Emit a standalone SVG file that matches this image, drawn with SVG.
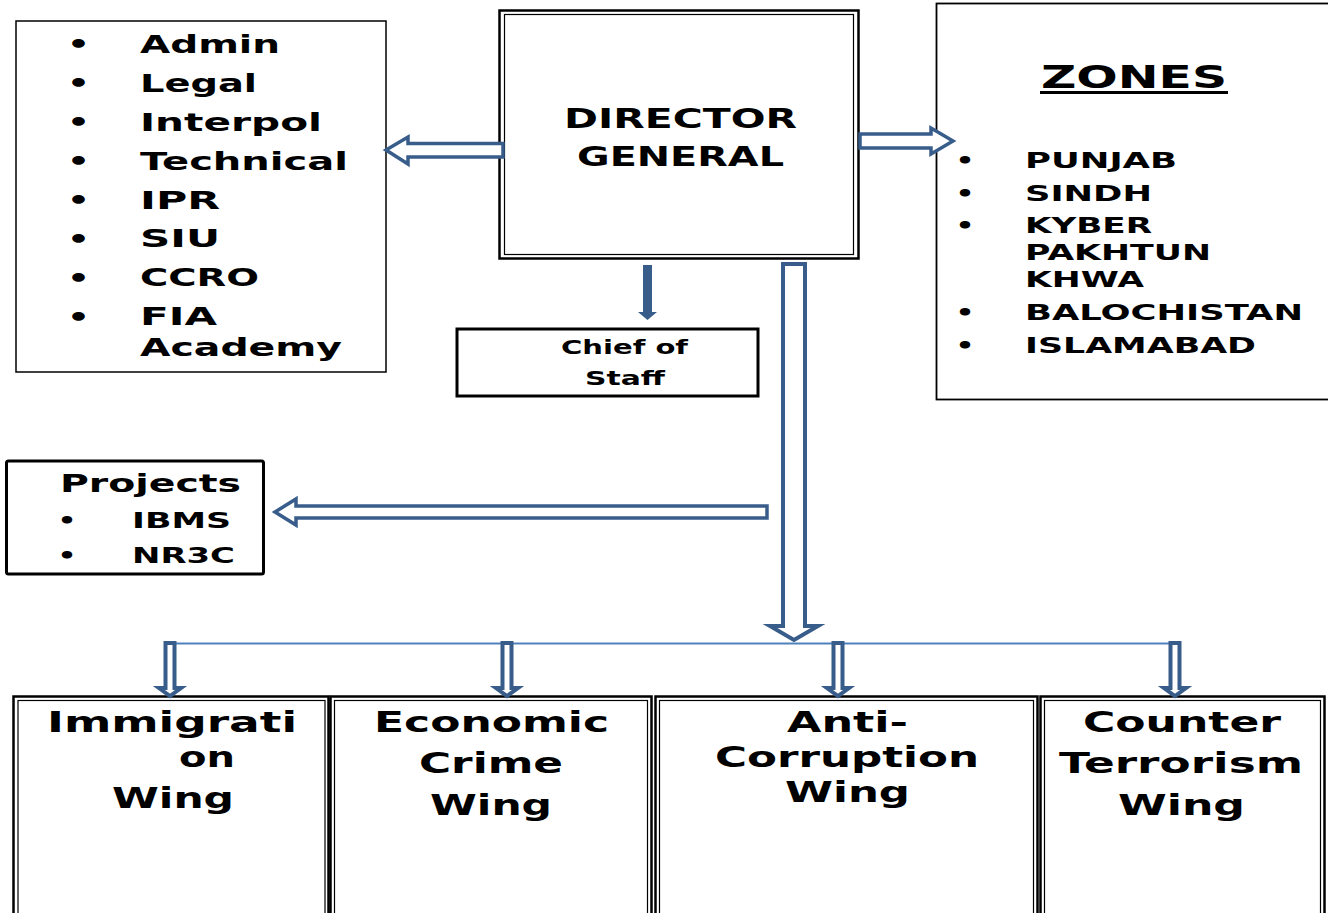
<svg xmlns="http://www.w3.org/2000/svg" width="1328" height="913" viewBox="0 0 1328 913">
<defs>
<style>
.t{font-family:"DejaVu Sans","Verdana",sans-serif;font-weight:bold;fill:#000}
.b{font-family:"DejaVu Sans","Verdana",sans-serif;font-weight:bold;fill:#000}
.box{fill:#fff;stroke:#000}
.hol{fill:#fff;stroke:#385D8A;stroke-width:3.5;stroke-linejoin:miter}
.sm{fill:#fff;stroke:#385D8A;stroke-width:4;stroke-linejoin:miter}
</style>
</defs>
<rect width="1328" height="913" fill="#fff"/>

<g id="support-units">
<rect class="box" x="16" y="21" width="370" height="351" stroke-width="1.5"/>
<g class="b" font-size="25">
<text x="78.5" y="53" text-anchor="middle" textLength="23" lengthAdjust="spacingAndGlyphs">•</text>
<text x="78.5" y="92" text-anchor="middle" textLength="23" lengthAdjust="spacingAndGlyphs">•</text>
<text x="78.5" y="131" text-anchor="middle" textLength="23" lengthAdjust="spacingAndGlyphs">•</text>
<text x="78.5" y="170" text-anchor="middle" textLength="23" lengthAdjust="spacingAndGlyphs">•</text>
<text x="78.5" y="209" text-anchor="middle" textLength="23" lengthAdjust="spacingAndGlyphs">•</text>
<text x="78.5" y="248" text-anchor="middle" textLength="23" lengthAdjust="spacingAndGlyphs">•</text>
<text x="78.5" y="287" text-anchor="middle" textLength="23" lengthAdjust="spacingAndGlyphs">•</text>
<text x="78.5" y="326" text-anchor="middle" textLength="23" lengthAdjust="spacingAndGlyphs">•</text>
</g>
<g class="t" font-size="25">
<text x="140" y="53" textLength="140" lengthAdjust="spacingAndGlyphs">Admin</text>
<text x="140" y="92" textLength="117" lengthAdjust="spacingAndGlyphs">Legal</text>
<text x="140" y="131" textLength="182" lengthAdjust="spacingAndGlyphs">Interpol</text>
<text x="140" y="170" textLength="208" lengthAdjust="spacingAndGlyphs">Technical</text>
<text x="140" y="209" textLength="80" lengthAdjust="spacingAndGlyphs">IPR</text>
<text x="140" y="247" textLength="80" lengthAdjust="spacingAndGlyphs">SIU</text>
<text x="140" y="286" textLength="119" lengthAdjust="spacingAndGlyphs">CCRO</text>
<text x="140" y="325" textLength="77" lengthAdjust="spacingAndGlyphs">FIA</text>
<text x="140" y="356" textLength="202" lengthAdjust="spacingAndGlyphs">Academy</text>
</g>
</g>

<g id="director-general">
<rect class="box" x="499.5" y="10.5" width="359" height="248" stroke-width="2.5"/>
<rect x="504.5" y="14.5" width="349" height="240" fill="none" stroke="#000" stroke-width="1.2"/>
<text class="t" font-size="26" x="564" y="128" textLength="233" lengthAdjust="spacingAndGlyphs">DIRECTOR</text>
<text class="t" font-size="26" x="577" y="166" textLength="207" lengthAdjust="spacingAndGlyphs">GENERAL</text>
</g>

<g id="zones">
<rect class="box" x="936.5" y="3.5" width="410" height="396" stroke-width="1.8"/>
<text class="t" font-size="32" x="1041" y="88" textLength="186" lengthAdjust="spacingAndGlyphs">ZONES</text>
<rect x="1040" y="91" width="188" height="3" fill="#000"/>
<g class="b" font-size="21">
<text x="965" y="168" text-anchor="middle" textLength="19" lengthAdjust="spacingAndGlyphs">•</text>
<text x="965" y="201" text-anchor="middle" textLength="19" lengthAdjust="spacingAndGlyphs">•</text>
<text x="965" y="233" text-anchor="middle" textLength="19" lengthAdjust="spacingAndGlyphs">•</text>
<text x="965" y="320" text-anchor="middle" textLength="19" lengthAdjust="spacingAndGlyphs">•</text>
<text x="965" y="353" text-anchor="middle" textLength="19" lengthAdjust="spacingAndGlyphs">•</text>
</g>
<g class="t" font-size="21">
<text x="1025" y="168" textLength="152" lengthAdjust="spacingAndGlyphs">PUNJAB</text>
<text x="1025" y="201" textLength="127" lengthAdjust="spacingAndGlyphs">SINDH</text>
<text x="1025" y="233" textLength="127" lengthAdjust="spacingAndGlyphs">KYBER</text>
<text x="1025" y="260" textLength="186" lengthAdjust="spacingAndGlyphs">PAKHTUN</text>
<text x="1025" y="287" textLength="119" lengthAdjust="spacingAndGlyphs">KHWA</text>
<text x="1025" y="320" textLength="278" lengthAdjust="spacingAndGlyphs">BALOCHISTAN</text>
<text x="1025" y="353" textLength="231" lengthAdjust="spacingAndGlyphs">ISLAMABAD</text>
</g>
</g>

<g id="chief-of-staff">
<rect class="box" x="457" y="329" width="301" height="67" stroke-width="3"/>
<text class="t" font-size="20" x="561" y="354" textLength="127" lengthAdjust="spacingAndGlyphs">Chief of</text>
<text class="t" font-size="20" x="585" y="385" textLength="80" lengthAdjust="spacingAndGlyphs">Staff</text>
</g>

<g id="projects">
<rect class="box" x="6.5" y="461" width="257" height="113" rx="2" stroke-width="3"/>
<text class="t" font-size="24" x="60" y="492" textLength="181" lengthAdjust="spacingAndGlyphs">Projects</text>
<text class="b" font-size="21" x="67" y="528" text-anchor="middle" textLength="19" lengthAdjust="spacingAndGlyphs">•</text>
<text class="b" font-size="21" x="67" y="563" text-anchor="middle" textLength="19" lengthAdjust="spacingAndGlyphs">•</text>
<text class="t" font-size="21" x="132" y="528" textLength="99" lengthAdjust="spacingAndGlyphs">IBMS</text>
<text class="t" font-size="21" x="132" y="563" textLength="103" lengthAdjust="spacingAndGlyphs">NR3C</text>
</g>

<g id="immigration-wing">
<rect class="box" x="13.5" y="696.5" width="315" height="230" stroke-width="2.5"/>
<rect x="18" y="700.5" width="307" height="230" fill="none" stroke="#000" stroke-width="1.2"/>
<g class="t" font-size="28">
<text x="47" y="732" textLength="250" lengthAdjust="spacingAndGlyphs">Immigrati</text>
<text x="179" y="767" textLength="56" lengthAdjust="spacingAndGlyphs">on</text>
<text x="112" y="808" textLength="122" lengthAdjust="spacingAndGlyphs">Wing</text>
</g>
</g>

<g id="economic-crime-wing">
<rect class="box" x="330.5" y="696.5" width="321" height="230" stroke-width="2.5"/>
<rect x="334.5" y="700.5" width="313" height="230" fill="none" stroke="#000" stroke-width="1.2"/>
<g class="t" font-size="28">
<text x="374" y="732" textLength="235" lengthAdjust="spacingAndGlyphs">Economic</text>
<text x="419" y="773" textLength="144" lengthAdjust="spacingAndGlyphs">Crime</text>
<text x="430" y="815" textLength="122" lengthAdjust="spacingAndGlyphs">Wing</text>
</g>
</g>

<g id="anti-corruption-wing">
<rect class="box" x="655.5" y="696.5" width="382" height="230" stroke-width="2.5"/>
<rect x="659.5" y="700.5" width="374" height="230" fill="none" stroke="#000" stroke-width="1.2"/>
<g class="t" font-size="28">
<text x="787" y="732" textLength="121" lengthAdjust="spacingAndGlyphs">Anti-</text>
<text x="715" y="767" textLength="264" lengthAdjust="spacingAndGlyphs">Corruption</text>
<text x="785" y="802" textLength="125" lengthAdjust="spacingAndGlyphs">Wing</text>
</g>
</g>

<g id="counter-terrorism-wing">
<rect class="box" x="1040.5" y="696.5" width="284" height="230" stroke-width="2.5"/>
<rect x="1044.5" y="700.5" width="276" height="230" fill="none" stroke="#000" stroke-width="1.2"/>
<g class="t" font-size="28">
<text x="1083" y="732" textLength="198" lengthAdjust="spacingAndGlyphs">Counter</text>
<text x="1059" y="773" textLength="244" lengthAdjust="spacingAndGlyphs">Terrorism</text>
<text x="1118" y="815" textLength="127" lengthAdjust="spacingAndGlyphs">Wing</text>
</g>
</g>

<g id="connectors">
<path class="hol" d="M386,150 L408,137 L408,143.5 L503,143.5 L503,157 L408,157 L408,164 Z"/>
<path class="hol" d="M860,134 L931,134 L931,128 L953,141 L931,154 L931,148 L860,148 Z"/>
<path fill="#385D8A" d="M643,265 L652,265 L652,312 L657,312 L647.5,320 L638,312 L643,312 Z"/>
<path class="sm" d="M783,264 L805,264 L805,626 L818,626 L794,640 L770,626 L783,626 Z"/>
<path class="hol" d="M275,512 L296,499 L296,506 L767,506 L767,518 L296,518 L296,525 Z"/>
<line x1="168" y1="643.5" x2="1177" y2="643.5" stroke="#4F81BD" stroke-width="2"/>
<path class="sm" d="M165.5,643 L174.5,643 L174.5,688 L181,688 L170,696 L159,688 L165.5,688 Z"/>
<path class="sm" d="M502.5,643 L511.5,643 L511.5,688 L518,688 L507,696 L496,688 L502.5,688 Z"/>
<path class="sm" d="M833.5,643 L842.5,643 L842.5,688 L849,688 L838,696 L827,688 L833.5,688 Z"/>
<path class="sm" d="M1170.5,643 L1179.5,643 L1179.5,688 L1186,688 L1175,696 L1164,688 L1170.5,688 Z"/>
</g>
</svg>
